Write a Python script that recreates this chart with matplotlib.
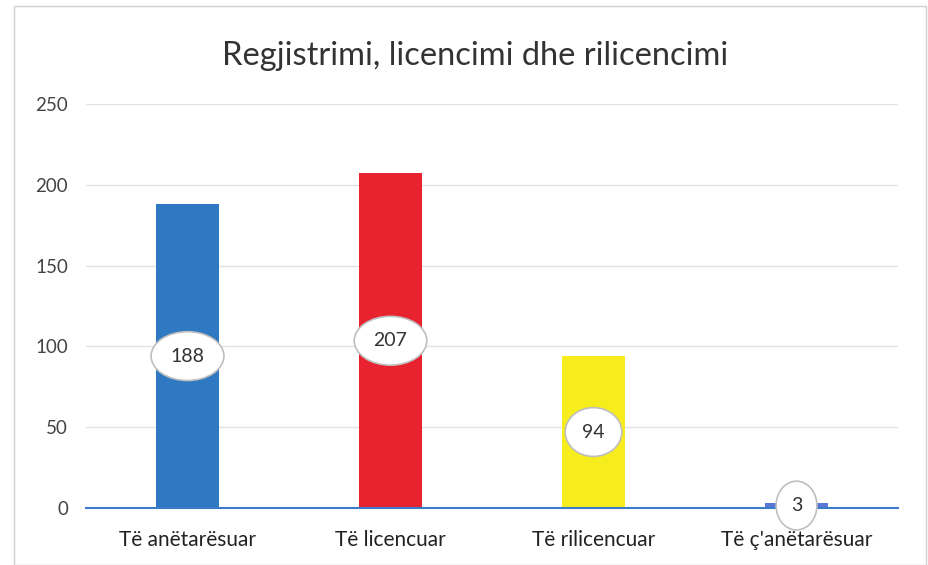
import matplotlib
matplotlib.use("Agg")
import matplotlib.pyplot as plt
from matplotlib.patches import Rectangle

categories = ["Të anëtarësuar", "Të licencuar", "Të rilicencuar", "Të ç'anëtarësuar"]
values = [188, 207, 94, 3]
colors = ["#2f78c2", "#e8222e", "#f7ec1c", "#5a78d8"]
yticks = [0, 50, 100, 150, 200, 250]
title = "Regjistrimi, licencimi dhe rilicencimi"

plt.rcParams['font.family'] = ['Lato', 'DejaVu Sans']

fig = plt.figure(figsize=(9.29, 5.65), dpi=100)
ax = fig.add_axes([86/929, 1 - 508/565, 812/929, 404/565])

x = list(range(len(categories)))
ax.bar(x, values, width=0.31, color=colors, zorder=3)

for xi, v in zip(x, values):
    ax.text(xi, v / 2, str(v), ha='center', va='center', fontsize=14,
            color='#333333', zorder=5,
            bbox=dict(boxstyle='ellipse,pad=0.45', fc='white', ec='#bfbfbf', lw=1.2))

ax.set_xlim(-0.5, 3.5)
ax.set_ylim(0, 250)
ax.set_yticks(yticks)
ax.set_yticklabels([str(t) for t in yticks], fontsize=13.5, color='#444444')
ax.set_xticks(x)
ax.set_xticklabels(categories, fontsize=15, color='#222222')
ax.tick_params(axis='y', length=0, pad=13)
ax.tick_params(axis='x', length=0, pad=16)
ax.grid(axis='y', color='#e2e2e2', lw=1, zorder=0)
for s in ['top', 'right', 'left']:
    ax.spines[s].set_visible(False)
ax.spines['bottom'].set_color('#3a7cc8')
ax.spines['bottom'].set_linewidth(1.5)
ax.spines['bottom'].set_zorder(4)

fig.text(0.511, 1 - 56/565, title, ha='center', va='center', fontsize=23.5, color='#333333')

fig.patches.append(Rectangle((14/929, 0.0), 912/929, 1 - 6/565, transform=fig.transFigure,
                             fill=False, ec='#d0d0d0', lw=1))

fig.savefig("out.png", dpi=100)
